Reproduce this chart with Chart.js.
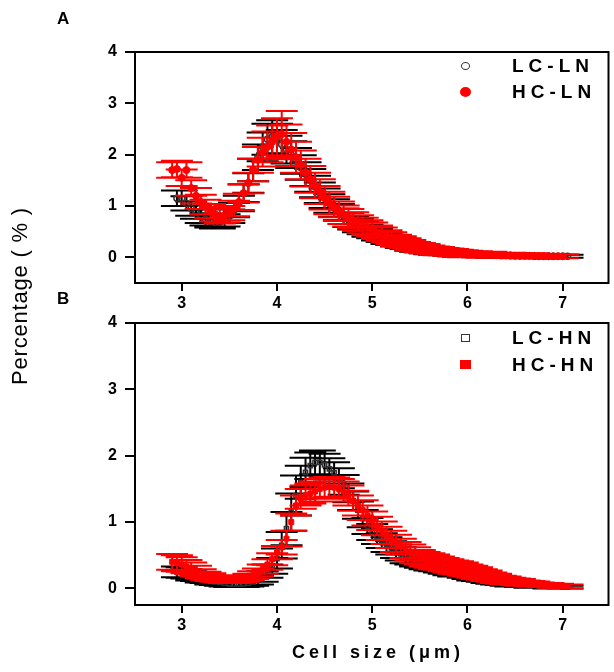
<!DOCTYPE html>
<html lang="en">
<head>
  <meta charset="UTF-8">
  <title>Cell size distribution</title>
  <script src="https://cdn.jsdelivr.net/npm/chart.js"></script>
  <style>
    body {
      margin: 0;
      background: #fff;
      font-family: "Liberation Sans", Arial, sans-serif;
    }
    .wrap {
      position: relative;
      width: 614px;
      height: 672px;
      overflow: hidden;
    }
    canvas {
      position: absolute;
      left: 0;
    }
    .txt {
      position: absolute;
      color: #000;
      white-space: nowrap;
    }
    .panel { font-weight: bold; font-size: 17px; }
    .leg { font-weight: bold; font-size: 19px; letter-spacing: 5px; line-height: 20px; }
    .mark { position: absolute; box-sizing: border-box; }
  </style>
</head>
<body>
  <div class="wrap">
    <canvas id="chartA" width="614" height="320" style="top:0"></canvas>
    <canvas id="chartB" width="614" height="372" style="top:300px"></canvas>

    <div class="txt panel" style="left:57px; top:9px;">A</div>
    <div class="txt panel" style="left:57px; top:289px;">B</div>

    <!-- legends -->
    <div class="mark" style="left:461px; top:62px; width:9px; height:8px; border:1.5px solid #333; border-radius:50%;"></div>
    <div class="txt leg" style="left:512px; top:56px;">LC-LN</div>
    <div class="mark" style="left:460px; top:87px; width:11px; height:10px; background:#ff0000; border-radius:50%;"></div>
    <div class="txt leg" style="left:512px; top:82px;">HC-LN</div>

    <div class="mark" style="left:461px; top:334px; width:9px; height:8px; border:1.5px solid #333;"></div>
    <div class="txt leg" style="left:512px; top:328px;">LC-HN</div>
    <div class="mark" style="left:460px; top:360px; width:11px; height:9px; background:#ff0000;"></div>
    <div class="txt leg" style="left:512px; top:355px;">HC-HN</div>

    <!-- axis titles -->
    <div class="txt" style="left:-80px; top:284px; width:200px; text-align:center; font-size:22px; letter-spacing:0.8px; line-height:24px; transform:rotate(-90deg);">Percentage ( % )</div>
    <div class="txt" style="left:268px; top:640px; width:220px; text-align:center; font-size:18px; font-weight:bold; letter-spacing:4px; line-height:24px;">Cell size (μm)</div>
  </div>

  <script>
    // cell size bins (µm), shared by all series
    const sizeX = [2.90, 2.95, 3.00, 3.05, 3.10, 3.15, 3.20, 3.25, 3.30, 3.35,
                   3.40, 3.45, 3.50, 3.55, 3.60, 3.65, 3.70, 3.75, 3.80, 3.85,
                   3.90, 3.95, 4.00, 4.05, 4.10, 4.15, 4.20, 4.25, 4.30, 4.35,
                   4.40, 4.45, 4.50, 4.55, 4.60, 4.65, 4.70, 4.75, 4.80, 4.85,
                   4.90, 4.95, 5.00, 5.05, 5.10, 5.15, 5.20, 5.25, 5.30, 5.35,
                   5.40, 5.45, 5.50, 5.55, 5.60, 5.65, 5.70, 5.75, 5.80, 5.85,
                   5.90, 5.95, 6.00, 6.05, 6.10, 6.15, 6.20, 6.25, 6.30, 6.35,
                   6.40, 6.45, 6.50, 6.55, 6.60, 6.65, 6.70, 6.75, 6.80, 6.85,
                   6.90, 6.95, 7.00, 7.05];

    // panel A : percentage and its error
    const lcLN = [null, 1.15, 1.15, 1.05, 0.95, 0.88, 0.80, 0.74, 0.70, 0.68,
                  0.68, 0.72, 0.80, 0.92, 1.05, 1.25, 1.45, 1.70, 1.95, 2.15,
                  2.30, 2.35, 2.30, 2.20, 2.10, 2.00, 1.88, 1.75, 1.62, 1.50,
                  1.38, 1.26, 1.15, 1.05, 0.96, 0.88, 0.80, 0.73, 0.67, 0.62,
                  0.57, 0.52, 0.48, 0.44, 0.40, 0.36, 0.33, 0.30, 0.27, 0.24,
                  0.21, 0.19, 0.17, 0.15, 0.13, 0.12, 0.11, 0.10, 0.09, 0.08,
                  0.07, 0.07, 0.06, 0.06, 0.05, 0.05, 0.05, 0.04, 0.04, 0.04,
                  0.04, 0.03, 0.03, 0.03, 0.03, 0.03, 0.02, 0.02, 0.02, 0.02,
                  0.02, 0.02, 0.02, 0.02];
    const lcLNErr = [0, 0.15, 0.15, 0.14, 0.14, 0.13, 0.13, 0.12, 0.12, 0.12,
                     0.12, 0.12, 0.13, 0.14, 0.15, 0.17, 0.19, 0.22, 0.25, 0.28,
                     0.30, 0.32, 0.30, 0.28, 0.27, 0.26, 0.25, 0.24, 0.23, 0.22,
                     0.21, 0.20, 0.19, 0.18, 0.17, 0.16, 0.15, 0.14, 0.13, 0.13,
                     0.12, 0.12, 0.11, 0.11, 0.10, 0.10, 0.09, 0.09, 0.09, 0.08,
                     0.08, 0.08, 0.07, 0.07, 0.07, 0.07, 0.06, 0.06, 0.06, 0.06,
                     0.06, 0.05, 0.05, 0.05, 0.05, 0.05, 0.05, 0.05, 0.04, 0.04,
                     0.04, 0.04, 0.04, 0.04, 0.04, 0.04, 0.04, 0.03, 0.03, 0.03,
                     0.03, 0.03, 0.03, 0.03];
    const hcLN = [1.70, 1.72, 1.55, 1.70, 1.35, 1.20, 1.08, 0.98, 0.90, 0.84,
                  0.80, 0.82, 0.86, 0.95, 1.08, 1.25, 1.45, 1.70, 1.90, 2.05,
                  2.15, 2.25, 2.35, 2.40, 2.25, 2.10, 1.95, 1.80, 1.65, 1.52,
                  1.40, 1.28, 1.16, 1.06, 0.98, 0.90, 0.83, 0.77, 0.72, 0.67,
                  0.62, 0.58, 0.54, 0.49, 0.45, 0.41, 0.37, 0.33, 0.30, 0.27,
                  0.24, 0.21, 0.19, 0.17, 0.15, 0.13, 0.12, 0.11, 0.10, 0.09,
                  0.08, 0.07, 0.07, 0.06, 0.06, 0.05, 0.05, 0.05, 0.04, 0.04,
                  0.04, 0.04, 0.03, 0.03, 0.03, 0.03, 0.03, 0.02, 0.02, 0.02,
                  0.02, 0.02, 0.02, null];
    const hcLNErr = [0.15, 0.16, 0.16, 0.15, 0.15, 0.15, 0.14, 0.14, 0.14, 0.14,
                     0.14, 0.14, 0.14, 0.15, 0.16, 0.18, 0.20, 0.22, 0.25, 0.28,
                     0.30, 0.32, 0.36, 0.45, 0.34, 0.32, 0.30, 0.28, 0.27, 0.26,
                     0.25, 0.24, 0.23, 0.22, 0.20, 0.19, 0.18, 0.17, 0.16, 0.15,
                     0.15, 0.14, 0.14, 0.13, 0.13, 0.12, 0.12, 0.11, 0.11, 0.10,
                     0.10, 0.09, 0.09, 0.09, 0.08, 0.08, 0.08, 0.07, 0.07, 0.07,
                     0.07, 0.07, 0.06, 0.06, 0.06, 0.06, 0.06, 0.06, 0.05, 0.05,
                     0.05, 0.05, 0.05, 0.05, 0.05, 0.05, 0.05, 0.04, 0.04, 0.04,
                     0.04, 0.04, 0.04, 0];

    // panel B : percentage and its error
    const lcHN = [null, 0.25, 0.24, 0.22, 0.19, 0.17, 0.15, 0.13, 0.11, 0.10,
                  0.09, 0.08, 0.07, 0.07, 0.07, 0.07, 0.08, 0.10, 0.13, 0.18,
                  0.26, 0.34, 0.45, 0.65, 0.90, 1.15, 1.40, 1.60, 1.75, 1.85,
                  1.90, 1.90, 1.86, 1.80, 1.74, 1.66, 1.56, 1.44, 1.32, 1.18,
                  1.05, 0.94, 0.85, 0.78, 0.72, 0.66, 0.61, 0.56, 0.52, 0.48,
                  0.45, 0.42, 0.40, 0.38, 0.36, 0.34, 0.32, 0.30, 0.28, 0.26,
                  0.25, 0.23, 0.21, 0.19, 0.17, 0.16, 0.14, 0.13, 0.11, 0.10,
                  0.09, 0.08, 0.07, 0.06, 0.06, 0.05, 0.05, 0.04, 0.04, 0.03,
                  0.03, 0.03, 0.02, 0.02];
    const lcHNErr = [0, 0.08, 0.08, 0.07, 0.07, 0.06, 0.06, 0.05, 0.05, 0.05,
                     0.05, 0.05, 0.05, 0.05, 0.05, 0.05, 0.05, 0.06, 0.07, 0.08,
                     0.10, 0.12, 0.15, 0.20, 0.25, 0.28, 0.30, 0.25, 0.22, 0.20,
                     0.18, 0.18, 0.17, 0.16, 0.16, 0.15, 0.15, 0.14, 0.14, 0.13,
                     0.13, 0.12, 0.12, 0.11, 0.11, 0.11, 0.10, 0.10, 0.10, 0.10,
                     0.09, 0.09, 0.09, 0.09, 0.09, 0.08, 0.08, 0.08, 0.08, 0.08,
                     0.07, 0.07, 0.07, 0.07, 0.06, 0.06, 0.06, 0.06, 0.05, 0.05,
                     0.05, 0.05, 0.04, 0.04, 0.04, 0.04, 0.03, 0.03, 0.03, 0.03,
                     0.03, 0.03, 0.02, 0.02];
    const hcHN = [0.40, 0.38, 0.36, 0.33, 0.30, 0.26, 0.22, 0.19, 0.17, 0.15,
                  0.14, 0.13, 0.13, 0.13, 0.14, 0.15, 0.17, 0.20, 0.24, 0.29,
                  0.36, 0.44, 0.54, 0.62, 0.75, 1.00, 1.25, 1.35, 1.40, 1.43,
                  1.46, 1.50, 1.52, 1.53, 1.52, 1.50, 1.46, 1.40, 1.32, 1.25,
                  1.18, 1.10, 1.02, 0.94, 0.87, 0.80, 0.74, 0.68, 0.63, 0.58,
                  0.54, 0.50, 0.47, 0.44, 0.42, 0.40, 0.38, 0.36, 0.34, 0.32,
                  0.31, 0.29, 0.27, 0.25, 0.23, 0.21, 0.19, 0.17, 0.15, 0.13,
                  0.12, 0.11, 0.10, 0.09, 0.08, 0.07, 0.065, 0.06, 0.05, 0.05,
                  0.04, 0.04, 0.03, 0.03];
    const hcHNErr = [0.12, 0.12, 0.11, 0.10, 0.09, 0.08, 0.07, 0.06, 0.06, 0.05,
                     0.05, 0.05, 0.05, 0.05, 0.05, 0.05, 0.05, 0.06, 0.06, 0.07,
                     0.08, 0.09, 0.10, 0.11, 0.12, 0.13, 0.15, 0.15, 0.15, 0.15,
                     0.15, 0.15, 0.15, 0.15, 0.15, 0.15, 0.15, 0.15, 0.15, 0.15,
                     0.15, 0.15, 0.14, 0.14, 0.14, 0.13, 0.13, 0.13, 0.12, 0.12,
                     0.12, 0.12, 0.11, 0.11, 0.11, 0.11, 0.10, 0.10, 0.10, 0.10,
                     0.10, 0.10, 0.09, 0.09, 0.09, 0.08, 0.08, 0.07, 0.07, 0.06,
                     0.06, 0.05, 0.05, 0.05, 0.04, 0.04, 0.04, 0.03, 0.03, 0.03,
                     0.03, 0.03, 0.03, 0.03];

    const xTicks = [3, 4, 5, 6, 7];
    const yTicks = [0, 1, 2, 3, 4];

    function points(ys, errs) {
      return sizeX.map((x, i) => ({ x: x, y: ys[i], e: errs[i] }));
    }

    // vertical error bars with wide caps, drawn just before each dataset's markers
    const errorBars = {
      id: 'errorBars',
      beforeDatasetDraw(chart, args) {
        const ds = chart.data.datasets[args.index];
        const xs = chart.scales.x, ys = chart.scales.y;
        const ctx = chart.ctx;
        const cap = 16;
        ctx.save();
        ctx.strokeStyle = ds.barColor;
        ctx.lineWidth = 2;
        ctx.beginPath();
        ds.data.forEach(p => {
          if (p.y == null) return;
          const px = xs.getPixelForValue(p.x);
          const top = ys.getPixelForValue(p.y + p.e);
          const bot = ys.getPixelForValue(p.y - p.e);
          ctx.moveTo(px, top); ctx.lineTo(px, bot);
          ctx.moveTo(px - cap, top); ctx.lineTo(px + cap, top);
          ctx.moveTo(px - cap, bot); ctx.lineTo(px + cap, bot);
        });
        ctx.stroke();
        ctx.restore();
      }
    };

    const frame = {
      id: 'frame',
      afterDatasetsDraw(chart) {
        const a = chart.chartArea, ctx = chart.ctx;
        ctx.save();
        ctx.strokeStyle = '#000';
        ctx.lineWidth = 2;
        ctx.strokeRect(a.left, a.top, a.right - a.left, a.bottom - a.top);
        ctx.restore();
      }
    };

    const tickFont = { family: '"Liberation Sans", Arial, sans-serif', size: 16, weight: 'bold' };

    function makeChart(id, datasets, yMin, pad) {
      return new Chart(document.getElementById(id), {
        type: 'scatter',
        data: { datasets: datasets },
        options: {
          responsive: false,
          animation: false,
          devicePixelRatio: 1,
          layout: { padding: pad },
          plugins: { legend: { display: false }, tooltip: { enabled: false } },
          scales: {
            x: {
              type: 'linear', min: 2.51, max: 7.48,
              afterBuildTicks: s => { s.ticks = xTicks.map(v => ({ value: v })); },
              afterFit: s => { s.height = 30; },
              border: { display: false },
              grid: { drawOnChartArea: false, drawTicks: true, tickLength: 8, color: '#000', lineWidth: 2 },
              ticks: { color: '#000', font: tickFont, padding: 3, maxRotation: 0 }
            },
            y: {
              type: 'linear', min: yMin, max: 4,
              afterBuildTicks: s => { s.ticks = yTicks.map(v => ({ value: v })); },
              afterFit: s => { s.width = 35; },
              border: { display: false },
              grid: { drawOnChartArea: false, drawTicks: true, tickLength: 10, color: '#000', lineWidth: 2 },
              ticks: { color: '#000', font: tickFont, padding: 8 }
            }
          }
        },
        plugins: [errorBars, frame]
      });
    }

    // red series on top (lower order is drawn last)
    makeChart('chartA', [
      { label: 'LC-LN', order: 1, data: points(lcLN, lcLNErr), barColor: '#000', pointStyle: 'circle', pointRadius: 3,
        borderColor: '#333', borderWidth: 1.5, backgroundColor: 'rgba(255,255,255,0)' },
      { label: 'HC-LN', order: 0, data: points(hcLN, hcLNErr), barColor: '#ff0000', pointStyle: 'circle', pointRadius: 3.5,
        borderColor: '#ff0000', borderWidth: 1, backgroundColor: '#ff0000' }
    ], -0.5, { left: 100, right: 1, top: 52, bottom: 7 });

    makeChart('chartB', [
      { label: 'LC-HN', order: 1, data: points(lcHN, lcHNErr), barColor: '#000', pointStyle: 'rect', pointRadius: 3,
        borderColor: '#333', borderWidth: 1.5, backgroundColor: 'rgba(255,255,255,0)' },
      { label: 'HC-HN', order: 0, data: points(hcHN, hcHNErr), barColor: '#ff0000', pointStyle: 'rect', pointRadius: 3.5,
        borderColor: '#ff0000', borderWidth: 1, backgroundColor: '#ff0000' }
    ], -0.25, { left: 100, right: 1, top: 23, bottom: 37 });
  </script>
</body>
</html>
